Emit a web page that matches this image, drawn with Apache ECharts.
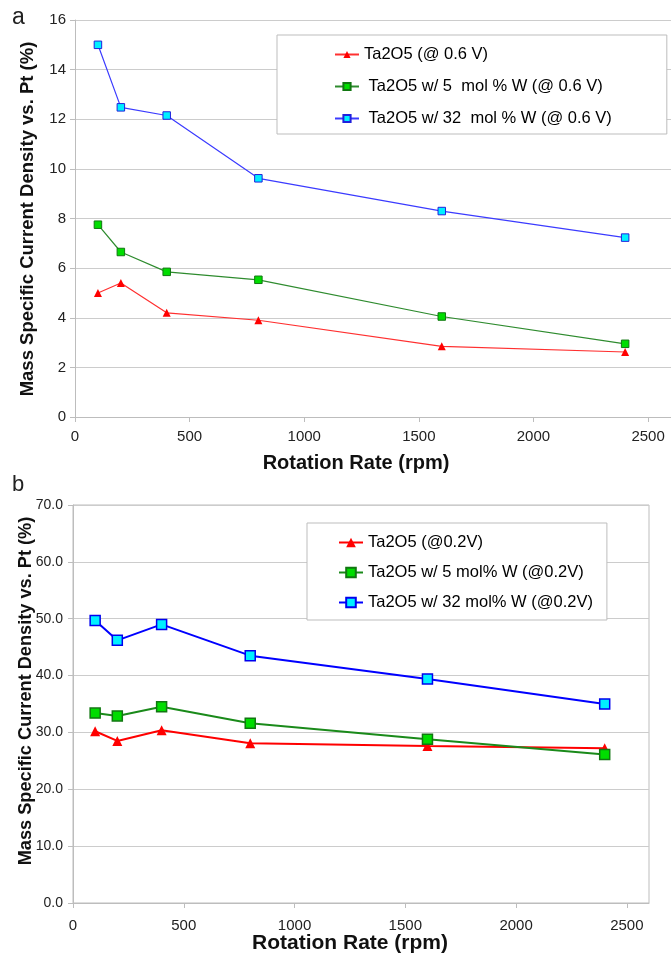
<!DOCTYPE html>
<html>
<head>
<meta charset="utf-8">
<script src="https://cdn.jsdelivr.net/npm/echarts@6/dist/echarts.min.js"></script>
<style>
	html, body { margin: 0; padding: 0; background: #fff; }
	#chart { width: 671px; height: 956px; }
</style>
</head>
<body>
<div id="chart"></div>
<script>
	// rotation rates (rpm), shared by both panels
	const rpm = [100, 200, 400, 800, 1600, 2400]
	const xTicks = [0, 500, 1000, 1500, 2000, 2500]

	// panel a, @ 0.6 V
	const namesA = ['Ta2O5 (@ 0.6 V)', ' Ta2O5 w/ 5  mol % W (@ 0.6 V)', ' Ta2O5 w/ 32  mol % W (@ 0.6 V)']
	const ta2o5A = [5.0, 5.4, 4.2, 3.9, 2.85, 2.62]
	const w5A = [7.75, 6.65, 5.85, 5.53, 4.05, 2.95]
	const w32A = [15.0, 12.48, 12.15, 9.62, 8.3, 7.23]

	// panel b, @ 0.2 V
	const namesB = ['Ta2O5 (@0.2V)', 'Ta2O5 w/ 5 mol% W (@0.2V)', 'Ta2O5 w/ 32 mol% W (@0.2V)']
	const ta2o5B = [30.2, 28.5, 30.4, 28.1, 27.6, 27.2]
	const w5B = [33.4, 32.9, 34.5, 31.6, 28.8, 26.1]
	const w32B = [49.7, 46.2, 49.0, 43.5, 39.4, 35.0]

	const font = 'Liberation Sans, Arial, sans-serif'
	const pts = arr => rpm.map((x, i) => [x, arr[i]])

	const chart = echarts.init(document.getElementById('chart'), null, { renderer: 'canvas' })

	const xAxisBase = (gridIndex, labelMargin) => ({
		type: 'value',
		gridIndex: gridIndex,
		min: 0,
		max: 2600,
		interval: 100,
		axisLine: { show: true, lineStyle: { color: '#bdbdbd', width: 1 } },
		axisTick: { show: true, customValues: xTicks, length: 5, lineStyle: { color: '#bdbdbd' } },
		axisLabel: {
			customValues: xTicks,
			formatter: v => (v % 500 === 0 ? String(v) : ''),
			color: '#222', fontSize: 15, fontFamily: font, margin: labelMargin
		},
		splitLine: { show: false }
	})

	const yAxisBase = (gridIndex, max, interval, fmt, size, margin) => ({
		type: 'value',
		gridIndex: gridIndex,
		min: 0,
		max: max,
		interval: interval,
		axisLine: { show: true, lineStyle: { color: '#bdbdbd', width: 1 } },
		axisTick: { show: true, length: 5, lineStyle: { color: '#bdbdbd' } },
		axisLabel: { formatter: fmt, color: '#222', fontSize: size, fontFamily: font, margin: margin },
		splitLine: { show: true, lineStyle: { color: '#cccccc', width: 1 } }
	})

	const line = (name, data, axis, color, lw, symbol, size, fill, border, bw) => ({
		name: name,
		type: 'line',
		xAxisIndex: axis,
		yAxisIndex: axis,
		data: pts(data),
		symbol: symbol,
		symbolSize: size,
		showAllSymbol: true,
		lineStyle: { color: color, width: lw },
		itemStyle: { color: fill, borderColor: border, borderWidth: bw, opacity: 1 },
		emphasis: { disabled: true },
		z: 3
	})

	const legendBase = {
		orient: 'vertical',
		backgroundColor: '#fff',
		borderColor: '#bdbdbd',
		borderWidth: 1,
		itemWidth: 24,
		align: 'left',
		selectedMode: false
	}

	chart.setOption({
		animation: false,
		backgroundColor: '#fff',
		grid: [
			{ left: 75, top: 20, width: 598, height: 397 },
			{ left: 73, top: 505, width: 576, height: 398, show: true, borderColor: '#bdbdbd', borderWidth: 1, backgroundColor: 'transparent' }
		],
		xAxis: [
			xAxisBase(0, 12),
			xAxisBase(1, 15)
		],
		yAxis: [
			yAxisBase(0, 16, 2, v => String(v), 15, 9),
			yAxisBase(1, 70, 10, v => v.toFixed(1), 14, 10)
		],
		legend: [
			Object.assign({}, legendBase, {
				data: namesA,
				left: 277, top: 35,
				itemHeight: 9,
				itemGap: 15,
				padding: [11, 55, 7, 57],
				textStyle: { color: '#000', fontSize: 16.5, fontFamily: font }
			}),
			Object.assign({}, legendBase, {
				data: namesB,
				left: 307, top: 523,
				itemHeight: 12,
				itemGap: 13,
				padding: [11, 14, 9, 31],
				textStyle: { color: '#000', fontSize: 16.5, fontFamily: font }
			})
		],
		graphic: [
			{ type: 'text', left: 12, top: 6, style: { text: 'a', font: '23px ' + font, fill: '#222' } },
			{ type: 'text', left: 12, top: 474, style: { text: 'b', font: '22px ' + font, fill: '#222' } },
			{ type: 'text', x: 28, y: 219, rotation: Math.PI / 2, style: { text: 'Mass Specific Current Density vs. Pt (%)', font: 'bold 18.5px ' + font, fill: '#111', align: 'center', verticalAlign: 'middle' } },
			{ type: 'text', x: 26, y: 691, rotation: Math.PI / 2, style: { text: 'Mass Specific Current Density vs. Pt (%)', font: 'bold 18.2px ' + font, fill: '#111', align: 'center', verticalAlign: 'middle' } },
			{ type: 'text', x: 356, y: 463, style: { text: 'Rotation Rate (rpm)', font: 'bold 20px ' + font, fill: '#111', align: 'center', verticalAlign: 'middle' } },
			{ type: 'text', x: 350, y: 943, style: { text: 'Rotation Rate (rpm)', font: 'bold 21px ' + font, fill: '#111', align: 'center', verticalAlign: 'middle' } }
		],
		series: [
			line(namesA[0], ta2o5A, 0, '#ff3030', 1.2, 'triangle', 8, '#ff0000', '#ff0000', 0),
			line(namesA[1], w5A, 0, '#2e8b2e', 1.2, 'rect', 7.5, '#00dd00', '#117711', 1),
			line(namesA[2], w32A, 0, '#3b3bff', 1.2, 'rect', 7.5, '#00f0ff', '#2020dd', 1),
			line(namesB[0], ta2o5B, 1, '#ff0000', 2, 'triangle', 10, '#ff0000', '#ff0000', 0),
			line(namesB[1], w5B, 1, '#1a8a1a', 2, 'rect', 10, '#00dd00', '#117711', 1.5),
			line(namesB[2], w32B, 1, '#0000ff', 2, 'rect', 10, '#00f0ff', '#0000ee', 1.5)
		]
	})
</script>
</body>
</html>
